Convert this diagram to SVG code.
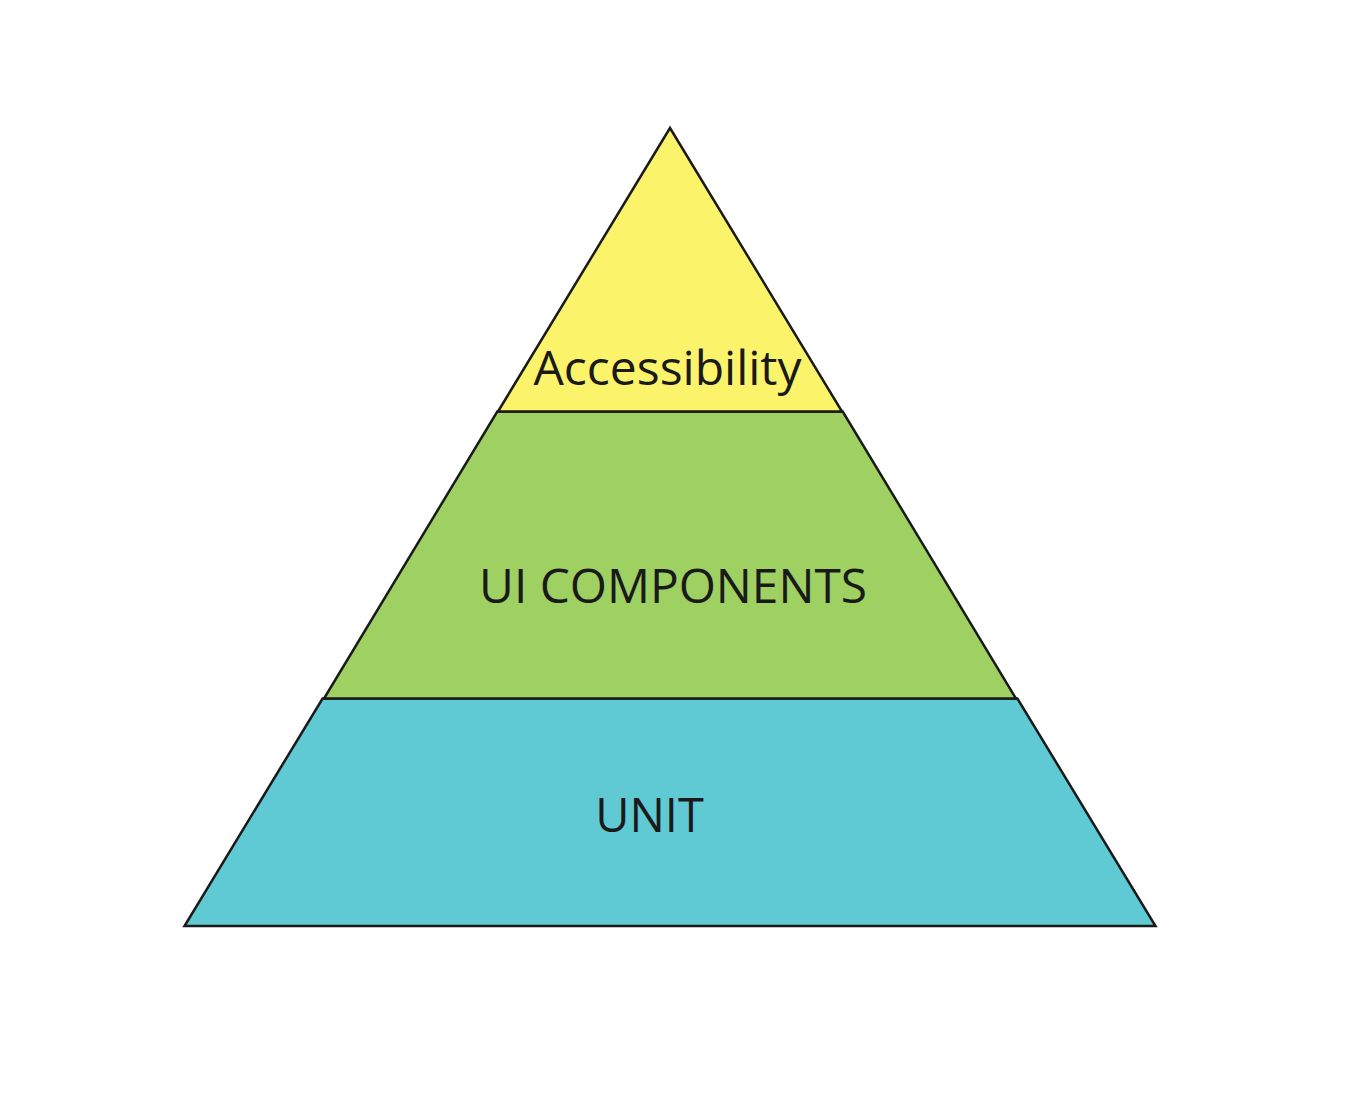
<svg xmlns="http://www.w3.org/2000/svg" width="1372" height="1096" viewBox="0 0 1372 1096">
<style>
.tier{stroke:#1a1a1a;stroke-width:2.5;stroke-linejoin:miter}
.lbl{font-family:"Open Sans","Noto Sans",sans-serif;fill:#1a1a1a;text-anchor:middle}
</style>
<rect width="1372" height="1096" fill="#ffffff"/>
<g id="unit">
<polygon class="tier" fill="#5FCAD3" points="322.6,698.5 1017.4,698.5 1155.5,926 184.5,926"/>
<text class="lbl" x="649.5" y="832" font-size="47">UNIT</text>
</g>
<g id="ui-components">
<polygon class="tier" fill="#9FD062" points="497.3,411.5 842.7,411.5 1016,698.5 324,698.5"/>
<text class="lbl" x="673" y="603" font-size="47.8">UI COMPONENTS</text>
</g>
<g id="accessibility">
<polygon class="tier" fill="#FBF46B" points="670,128 842,411.5 498,411.5"/>
<text class="lbl" x="667.5" y="385" font-size="48">Accessibility</text>
</g>
<g id="connectors"/>
</svg>
